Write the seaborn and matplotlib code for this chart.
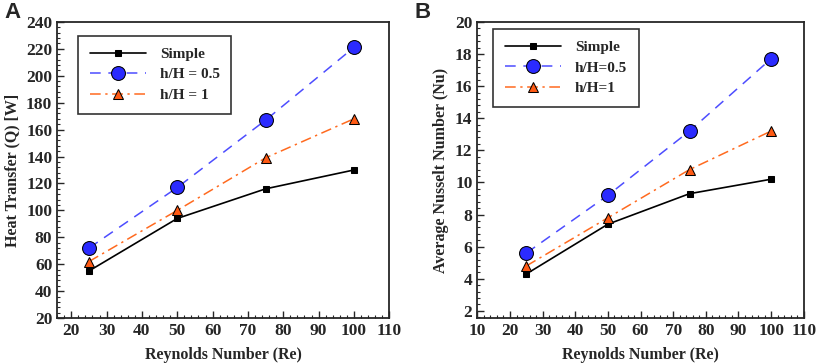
import numpy as np
import pandas as pd
import seaborn as sns
import matplotlib.pyplot as plt
from matplotlib.ticker import AutoMinorLocator, MultipleLocator

# Data
reynolds = [25, 50, 75, 100]

heat_simple = [55, 94, 116, 130]
heat_h05 = [72, 117, 167, 221]
heat_h1 = [62, 100, 139, 168]

nu_simple = [4.3, 7.4, 9.3, 10.2]
nu_h05 = [5.6, 9.2, 13.2, 17.7]
nu_h1 = [4.8, 7.8, 10.8, 13.2]

labels_a = ['Simple', 'h/H = 0.5', 'h/H = 1']
labels_b = ['Simple', 'h/H=0.5', 'h/H=1']

sns.set_style('ticks')
plt.rcParams['font.family'] = ['Liberation Serif', 'DejaVu Serif']
plt.rcParams['font.weight'] = 'bold'

styles = [
    dict(color='black', linestyle='-', marker='s', markersize=5, markerfacecolor='black',
         markeredgecolor='black', linewidth=1.2),
    dict(color='#4d4dff', linestyle=(0, (7, 5)), marker='o', markersize=10, markerfacecolor='#2b2bff',
         markeredgecolor='black', linewidth=1.1),
    dict(color='#ff6a1f', linestyle=(0, (7, 3, 1.5, 3)), marker='^', markersize=7.5, markerfacecolor='#ff5a14',
         markeredgecolor='black', linewidth=1.1),
]

fig = plt.figure(figsize=(8.16, 3.64), dpi=100)
ax_a = fig.add_axes([0.070, 0.126, 0.407, 0.814])
ax_b = fig.add_axes([0.585, 0.126, 0.400, 0.814])


def draw(ax, series, labels, xlim, ylim, xstep, ystep, ylabel, legend_box):
    for vals, lab, st in zip(series, labels, styles):
        df = pd.DataFrame({'Re': reynolds, 'val': vals})
        sns.lineplot(data=df, x='Re', y='val', ax=ax, label=lab, **st)
    ax.set_xlim(*xlim)
    ax.set_ylim(*ylim)
    ax.xaxis.set_major_locator(MultipleLocator(xstep))
    ax.yaxis.set_major_locator(MultipleLocator(ystep))
    ax.xaxis.set_minor_locator(AutoMinorLocator(5))
    ax.yaxis.set_minor_locator(AutoMinorLocator(5))
    ax.tick_params(which='both', direction='in', top=False, right=False, labelsize=12.5)
    ax.tick_params(which='major', length=5, width=1)
    ax.tick_params(which='minor', length=2.5, width=0.8)
    for lbl in ax.get_xticklabels() + ax.get_yticklabels():
        lbl.set_fontweight('bold')
    for sp in ax.spines.values():
        sp.set_linewidth(1.3)
    ax.set_xlabel('Reynolds Number (Re)', fontsize=11.5, fontweight='bold', labelpad=6)
    ax.set_ylabel(ylabel, fontsize=11.5, fontweight='bold')
    leg = ax.legend(loc='upper left', bbox_to_anchor=legend_box, fancybox=False, frameon=True,
                    edgecolor='black', fontsize=11, handlelength=3.7, borderpad=0.75,
                    labelspacing=0.45, handletextpad=0.9, borderaxespad=0)
    leg.get_frame().set_linewidth(1.2)
    for t in leg.get_texts():
        t.set_fontweight('bold')


draw(ax_a, [heat_simple, heat_h05, heat_h1], labels_a, (16, 110), (20, 240), 10, 20,
     'Heat Transfer (Q) [W]', (0.063, 0.953))
draw(ax_b, [nu_simple, nu_h05, nu_h1], labels_b, (10, 110), (1.55, 20), 10, 2,
     'Average Nusselt Number (Nu)', (0.049, 0.976))

fig.text(0.006, 0.995, 'A', fontsize=16, fontweight='bold', family='Liberation Sans', va='top')
fig.text(0.508, 0.995, 'B', fontsize=16, fontweight='bold', family='Liberation Sans', va='top')

fig.savefig('out.png', dpi=100)
